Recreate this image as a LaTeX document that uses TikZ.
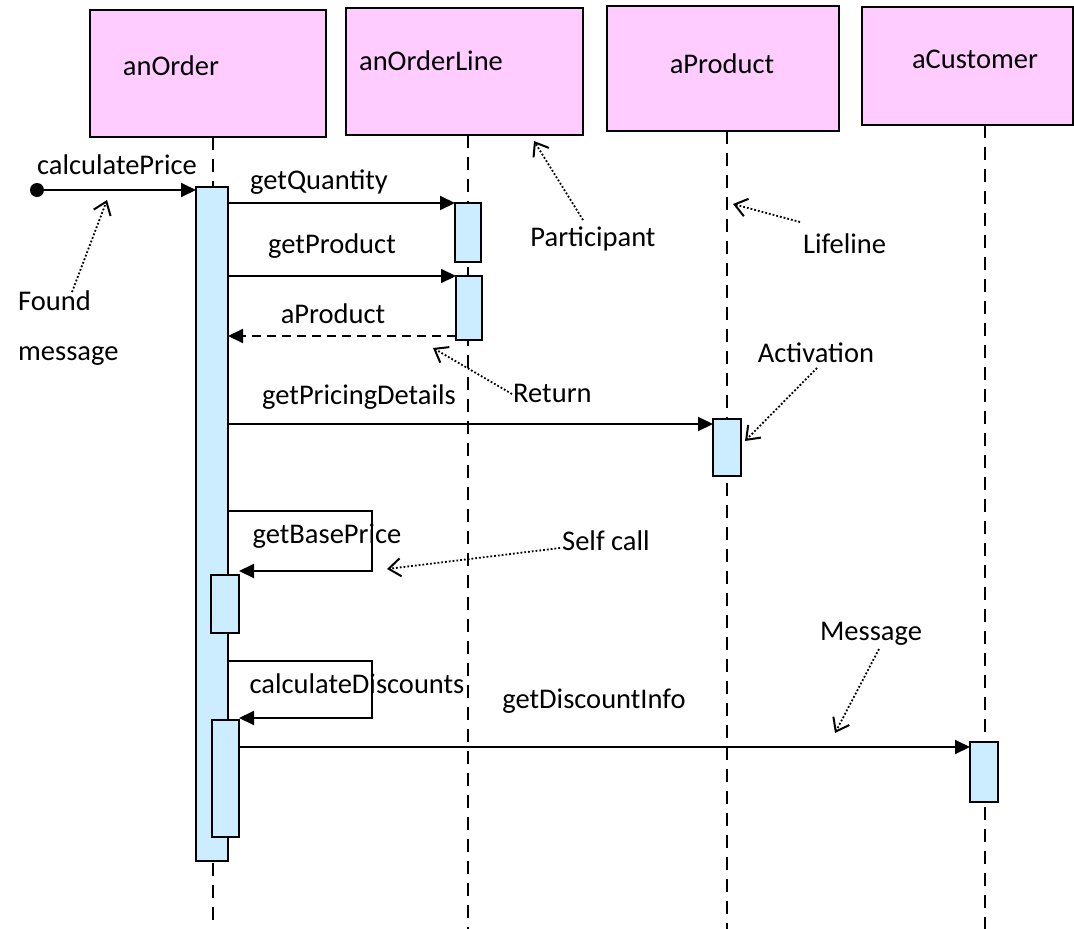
\documentclass[tikz,border=0pt]{standalone}
\usepackage{fontspec}
\setmainfont{Carlito}
\usetikzlibrary{arrows.meta,calc}
\definecolor{partpink}{HTML}{FFCCFF}
\definecolor{actblue}{HTML}{CCECFF}
\begin{document}
\begin{tikzpicture}[x=1pt,y=-1pt,
  lbl/.style={font=\fontsize{28.5}{34}\selectfont, inner sep=0pt},
  part/.style={draw, line width=2pt, fill=partpink, anchor=north west, inner sep=0pt, outer sep=0pt},
  act/.style={draw, line width=2pt, fill=actblue, anchor=north west, inner sep=0pt, outer sep=0pt},
  life/.style={line width=2pt, dash pattern=on 13pt off 9pt},
  msg/.style={line width=2pt, -{Triangle[length=15pt,width=14pt]}},
  ret/.style={msg, dash pattern=on 9pt off 6pt},
  note/.style={line width=1.8pt, dotted, -{Straight Barb[length=12pt,width=18pt,line width=2pt]}}]
\useasboundingbox (0,0) rectangle (1074,929);

% participants
\node[part, minimum width=236pt, minimum height=127pt] (pOrder) at (90,10) {};
\node[part, minimum width=237pt, minimum height=127pt] (pLine) at (346,8) {};
\node[part, minimum width=232pt, minimum height=125pt] (pProd) at (607,6) {};
\node[part, minimum width=211pt, minimum height=118pt] (pCust) at (862,7) {};
\node[lbl] (tOrder) at (171,66) {anOrder};
\node[lbl] (tLine) at (431,61) {anOrderLine};
\node[lbl] (tProd) at (722,64) {aProduct};
\node[lbl] (tCust) at (975,59) {aCustomer};

% lifelines
\coordinate (eOrder) at (213,929);
\coordinate (eLine) at (468,929);
\coordinate (eProd) at (727,929);
\coordinate (eCust) at (985,929);
\draw[life] (pOrder.south -| eOrder) -- (eOrder);
\draw[life] (pLine.south -| eLine) -- (eLine);
\draw[life] (pProd.south -| eProd) -- (eProd);
\draw[life] (pCust.south -| eCust) -- (eCust);

% activations
\node[act, minimum width=32pt, minimum height=674pt] (aMain) at (196,187) {};
\node[act, minimum width=26pt, minimum height=59pt] (aLineA) at (455,203) {};
\node[act, minimum width=26pt, minimum height=64pt] (aLineB) at (456,276) {};
\node[act, minimum width=28pt, minimum height=57pt] (aProd) at (713,419) {};
\node[act, minimum width=28pt, minimum height=58pt] (aSelfA) at (211,575) {};
\node[act, minimum width=27pt, minimum height=117pt] (aSelfB) at (212,720) {};
\node[act, minimum width=28pt, minimum height=60pt] (aCust) at (970,742) {};

% found message
\coordinate (dot) at (37,190);
\fill (dot) circle (7pt);
\draw[msg] (dot) -- (aMain.west |- dot);
\node[lbl] (tCalc) at (117,165) {calculatePrice};

% messages
\draw[msg] (aMain.east |- aLineA.north) -- (aLineA.north west);
\node[lbl] (tQty) at (319,182) {getQuantity};
\draw[msg] (aMain.east |- aLineB.north) -- (aLineB.north west);
\node[lbl] (tGetProd) at (332,246) {getProduct};
\coordinate (rStart) at ($(aLineB.south west)+(0,-4)$);
\draw[ret] (rStart) -- (aMain.east |- rStart);
\node[lbl] (tRet) at (333,314) {aProduct};
\coordinate (pdEnd) at ($(aProd.north west)+(0,5)$);
\draw[msg] (aMain.east |- pdEnd) -- (pdEnd);
\node[lbl] (tPD) at (359,397) {getPricingDetails};

% self calls
\coordinate (bpTurn) at (372,511);
\draw[msg] (aMain.east |- bpTurn) -- (bpTurn) |- ($(aSelfA.north east)+(0,-4)$);
\node[lbl] (tBP) at (327,536) {getBasePrice};
\coordinate (cdTurn) at (372,661);
\draw[msg] (aMain.east |- cdTurn) -- (cdTurn) |- ($(aSelfB.north east)+(0,-2)$);
\node[lbl] (tCD) at (357,684) {calculateDiscounts};

\coordinate (diEnd) at ($(aCust.north west)+(0,5)$);
\draw[msg] (aSelfB.east |- diEnd) -- (diEnd);
\node[lbl] (tDI) at (594,701) {getDiscountInfo};

% annotations
\node[lbl, anchor=west] (nFound) at (18,301) {Found};
\node[lbl, anchor=west] (nMsg) at (18,356) {message};
\coordinate (fTail) at (72,292);
\coordinate (fTip) at (107,200);
\draw[note] (fTail) -- (fTip);

\node[lbl] (nPart) at (593,239) {Participant};
\coordinate (paTail) at (583,220);
\coordinate (paTip) at (534,141);
\draw[note] (paTail) -- (paTip);

\node[lbl, anchor=west] (nLife) at (803,244) {Lifeline};
\coordinate (lTail) at (800,222);
\coordinate (lTip) at (733,204);
\draw[note] (lTail) -- (lTip);

\node[lbl, anchor=west] (nRet) at (513,393) {Return};
\coordinate (rTail) at (512,394);
\coordinate (rTip) at (433,348);
\draw[note] (rTail) -- (rTip);

\node[lbl] (nAct) at (816,353) {Activation};
\coordinate (acTail) at (817,368);
\coordinate (acTip) at (745,441);
\draw[note] (acTail) -- (acTip);

\node[lbl, anchor=west] (nSelf) at (562,541) {Self call};
\coordinate (sTail) at (560,548);
\coordinate (sTip) at (387,569);
\draw[note] (sTail) -- (sTip);

\node[lbl] (nMessage) at (871,634) {Message};
\coordinate (mTail) at (879,649);
\coordinate (mTip) at (835,733);
\draw[note] (mTail) -- (mTip);
\end{tikzpicture}
\end{document}
